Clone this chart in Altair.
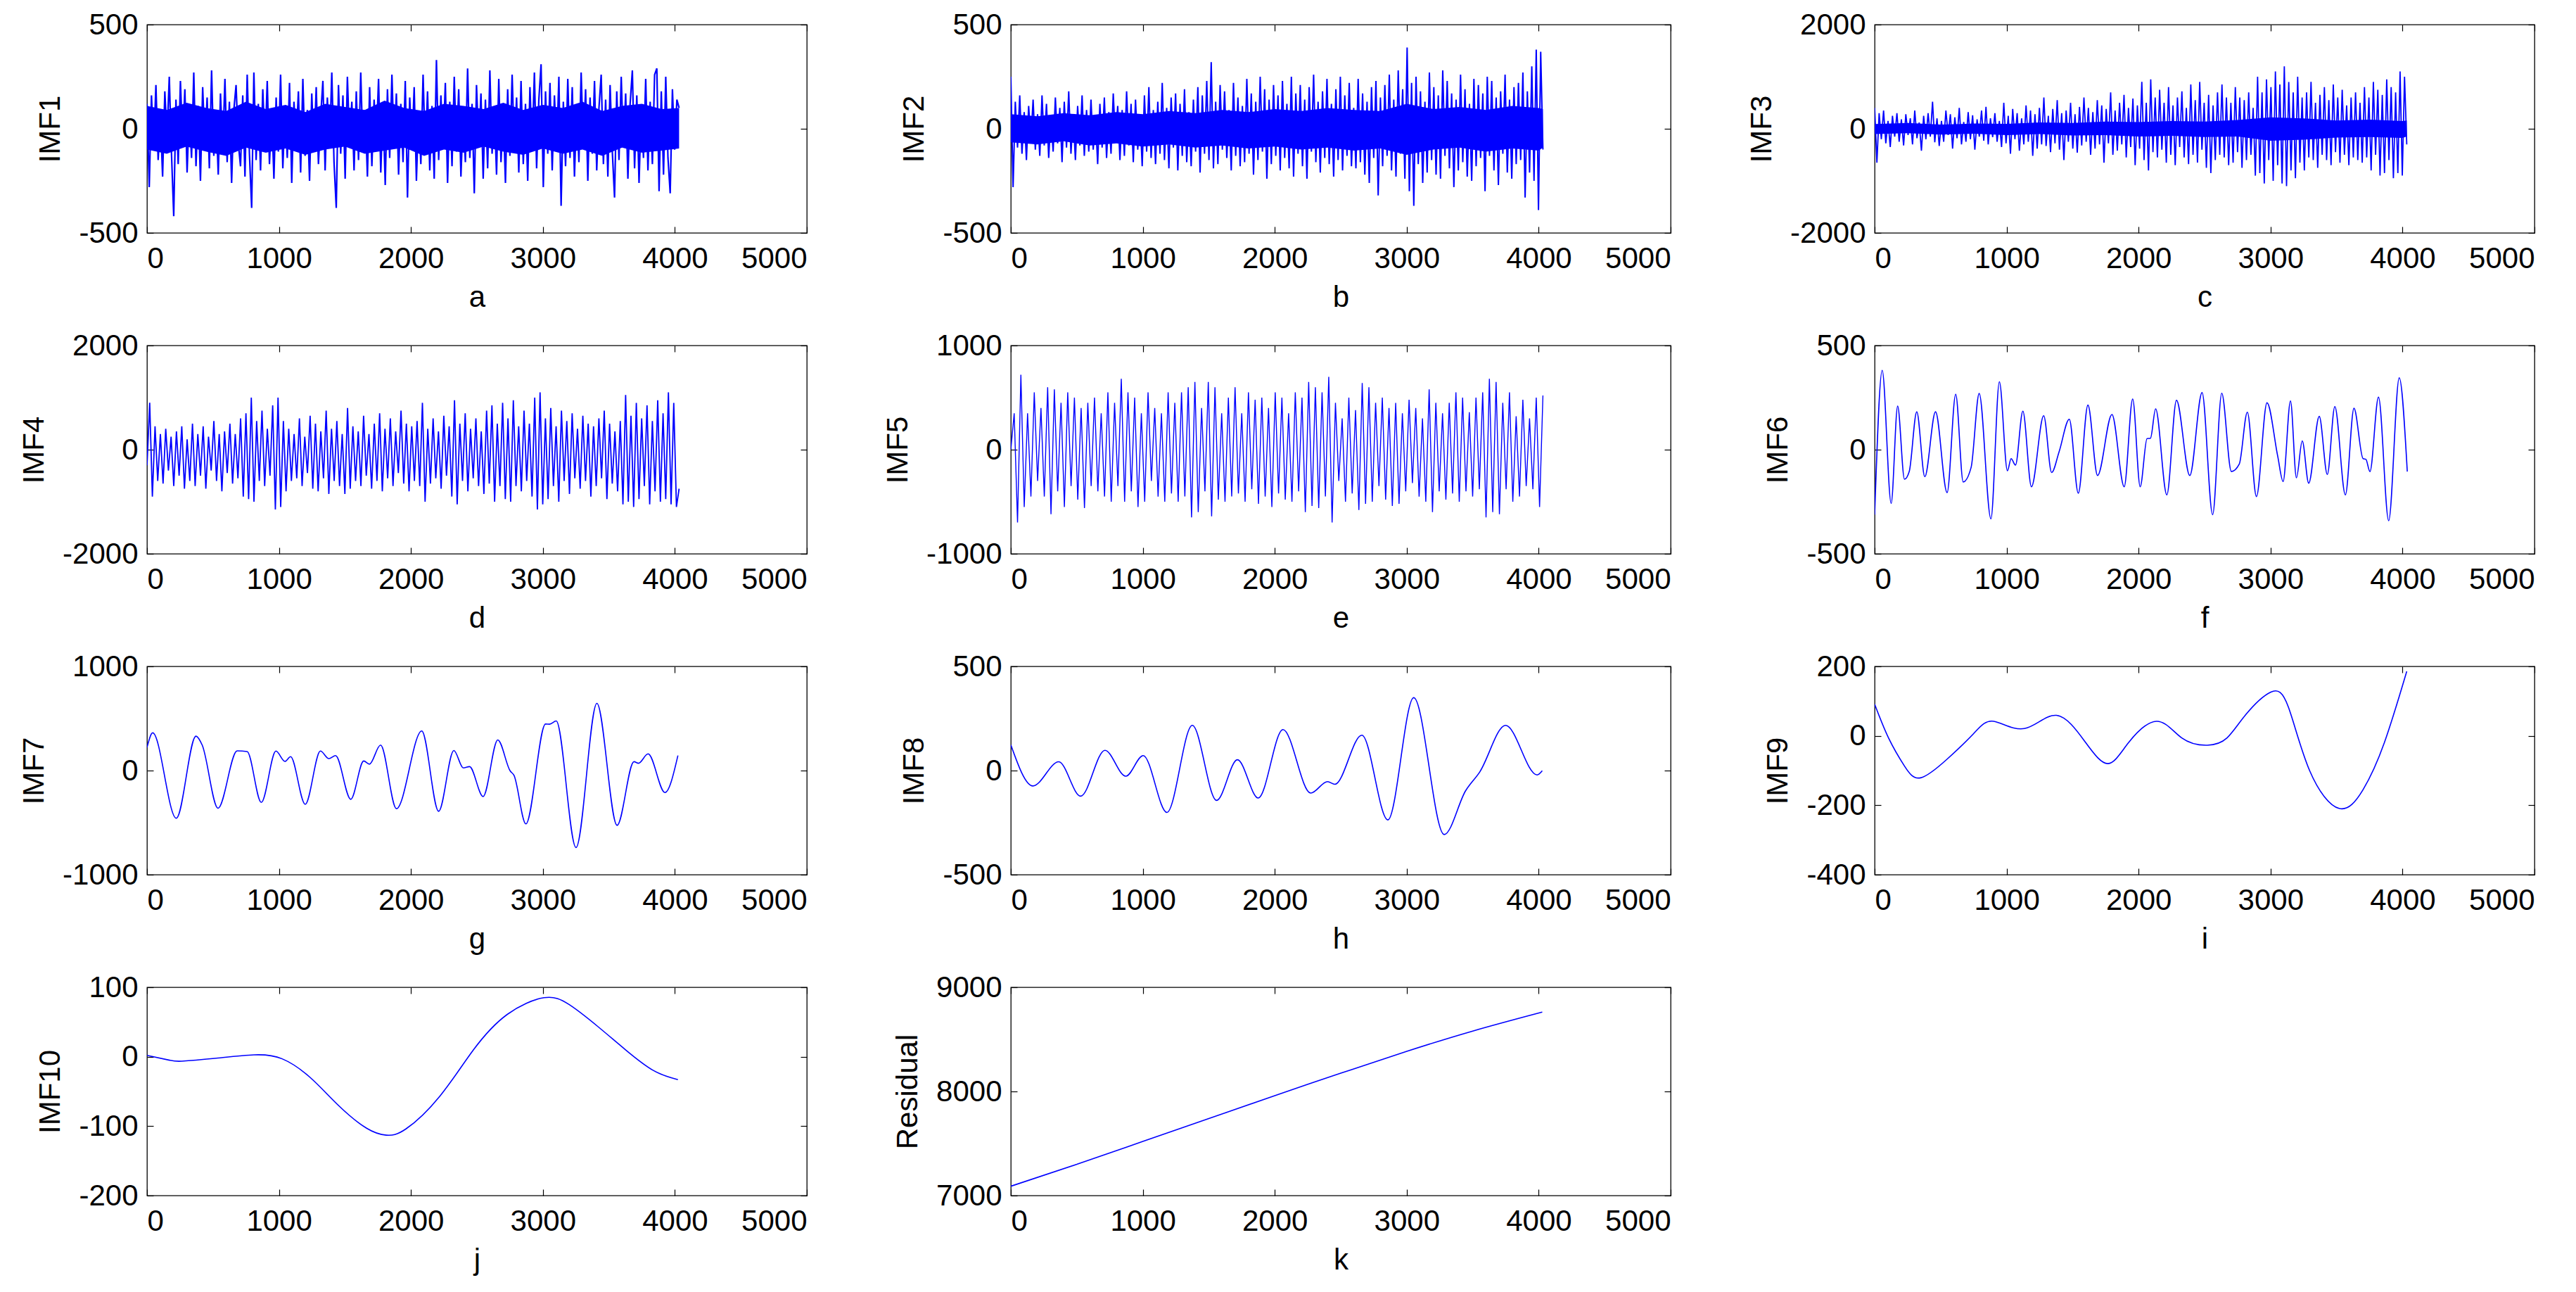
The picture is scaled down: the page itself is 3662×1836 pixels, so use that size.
import altair as alt
import pandas as pd

X_TICKS = [0, 1000, 2000, 3000, 4000, 5000]
LAST_SAMPLE = 4032

# ---- noisy components: successive extreme values ----
imf1 = [
    120, -280, 160, -90, 210, -150, 60, -230, 180, -40, 250, -120,
    -420, 140, -170, 230, -60, 190, -210, 90, -140, 270, -180, 110,
    -250, 200, -80, 150, -190, 280, -130, 70, -220, 170, -100, 240,
    -160, 130, -260, 90, 210, -70, -180, 160, -230, 260, -120, -380,
    270, -150, 120, -200, 190, -90, 230, -170, 80, -240, 150, -110,
    260, -190, 100, -140, 220, -260, 130, -60, 180, -210, 240, -130,
    90, -250, 170, -110, 200, -170, 60, 230, -200, 150, -90, 270,
    -160, -380, 210, -120, 160, -240, 250, -70, 130, -200, 180, -150,
    270, -110, 90, -230, 200, -180, 140, -60, 240, -210, 110, -270,
    190, -140, 260, -90, 170, -220, 120, -160, 230, -330, 150, -100,
    200, -250, 80, -170, 260, -120, 180, -200, 110, -240, 330, -150,
    160, -90, 220, -260, 130, -180, 250, -110, 190, -230, 70, -160,
    290, -140, 120, -310, 210, -80, 170, -240, 140, -190, 280, -120,
    100, -220, 240, -160, 80, -260, 190, -130, 260, -100, 150, -210,
    230, -170, 120, -250, 200, -90, 270, -190, 140, 310, -280, 180,
    -120, 220, -200, 160, -100, 250, -370, 130, -180, 240, -140, 200,
    -230, 110, -160, 270, -90, 190, -250, 150, -120, 230, -200, 100,
    260, -170, 140, -230, 210, -110, -330, 180, -150, 250, -90, 170,
    -240, 120, 280, -190, 160, -260, 90, -140, 240, -200, 130, -170,
    260, 290, -300, 180, -220, 250, -140, -310, 190, -100, 140, 100,
]

imf2 = [
    250, -280, 130, -90, 160, -120, 80, -150, 110, -60, 140, -100,
    70, -130, 160, -80, 120, -140, 60, -110, 150, -70, 100, -160,
    130, -90, 180, -120, 70, -150, 110, -80, 160, -130, 90, -110,
    140, -100, 60, -170, 120, -90, 150, -140, 80, -120, 170, -60,
    110, -150, 90, -130, 180, -80, 120, -160, 140, -100, 70, -180,
    160, -110, 200, -140, 90, -170, 130, -120, 220, -150, 100, -190,
    150, -90, 170, -200, 120, -130, 190, -160, 80, -180, 140, -110,
    200, -210, 160, -120, 230, -150, 320, -190, 130, -170, 210, -100,
    180, -140, 90, -200, 220, -130, 150, -180, 110, -160, 240, -120,
    170, -220, 130, -150, 250, -110, 190, -240, 140, -170, 210, -130,
    160, -200, 230, -140, 120, -190, 250, -230, 170, -120, 210, -180,
    140, -240, 200, -110, 260, -160, 130, -210, 180, -140, 240, -170,
    120, -230, 190, -150, 250, -200, 160, -130, 220, -180, 100, -190,
    240, -160, 170, -220, 130, -260, 200, -140, 230, -320, 150, -180,
    210, -130, 260, -200, 140, -230, 280, -120, 190, -240, 390, -300,
    220, -370, 250, -170, 180, -260, 130, -210, 270, -150, 200, -220,
    160, -240, 280, -130, 230, -190, 170, -280, 140, -200, 260, -160,
    190, -230, 120, -250, 240, -180, 210, -140, 170, -300, 250, -130,
    230, -200, 150, -270, 180, -120, 260, -210, 140, -240, 200, -170,
    220, -150, 270, -330, 180, -210, 300, -250, 380, -390, 370, -100,
]

imf3 = [
    400, -650, 300, -200, 350, -280, 150, -350, 250, -150, 300, -250,
    180, -320, 280, -120, 200, -300, 350, -180, 120, -420, 250, -200,
    300, -150, 520, -260, 200, -330, 150, -250, 350, -120, 280, -380,
    220, -180, 400, -300, 130, -250, 320, -200, 260, -400, 180, -150,
    350, -230, 420, -300, 200, -160, 300, -250, 150, -350, 500, -280,
    250, -480, 380, -200, 300, -420, 200, -300, 450, -250, 350, -520,
    280, -380, 400, -300, 600, -330, 250, -450, 380, -280, 550, -400,
    300, -600, 350, -250, 500, -380, 280, -460, 420, -320, 600, -250,
    400, -500, 320, -380, 550, -300, 450, -650, 380, -280, 700, -500,
    350, -420, 500, -300, 650, -550, 400, -350, 580, -700, 450, -380,
    900, -600, 500, -800, 950, -450, 600, -550, 750, -400, 500, -650,
    800, -500, 450, -700, 600, -350, 720, -550, 400, -680, 850, -500,
    550, -650, 900, -400, 500, -750, 650, -850, 450, -600, 700, -500,
    850, -550, 600, -700, 500, -650, 800, -450, 600, -750, 550, -600,
    700, -500, 400, -900, 1000, -850, 700, -1050, 950, -600, 800, -1000,
    1100, -700, 850, -1050, 1200, -1100, 900, -800, 700, -950, 1000, -650,
    600, -800, 700, -550, 900, -600, 500, -750, 650, -500, 800, -600,
    550, -700, 850, -450, 600, -650, 750, -500, 450, -700, 600, -550,
    700, -600, 500, -650, 800, -550, 600, -800, 900, -500, 750, -900,
    650, -850, 950, -600, 800, -950, 700, -850, 1100, -900, 1000, -300,
]

# solid core of the dense traces (upper / lower edge of the filled band)
imf1_core_x = [0, 150, 300, 450, 600, 750, 900, 1050, 1200, 1350, 1500, 1650, 1800, 1950,
               2100, 2250, 2400, 2550, 2700, 2850, 3000, 3150, 3300, 3450, 3600, 3750, 3900, 4032]
imf1_core_hi = [110, 90, 125, 100, 85, 130, 95, 115, 80, 120, 105, 90, 135, 100,
                85, 120, 110, 95, 125, 90, 115, 100, 130, 85, 110, 120, 95, 100]
imf1_core_lo = [-100, -120, -85, -110, -130, -90, -115, -95, -125, -100, -85, -120, -105, -90,
                -130, -100, -115, -85, -110, -125, -95, -120, -100, -130, -90, -115, -105, -95]

imf2_core_x = [0, 200, 400, 600, 800, 1000, 1200, 1400, 1600, 1800, 2000, 2200, 2400,
               2600, 2800, 3000, 3200, 3400, 3600, 3800, 4000, 4032]
imf2_core_hi = [70, 60, 75, 65, 80, 70, 85, 75, 90, 80, 95, 85, 100,
                90, 85, 120, 95, 105, 90, 110, 100, 95]
imf2_core_lo = [-65, -75, -60, -80, -70, -85, -75, -90, -80, -95, -85, -100, -90,
                -105, -95, -125, -100, -90, -110, -95, -105, -90]

imf3_core_x = [0, 250, 500, 750, 1000, 1250, 1500, 1750, 2000, 2250, 2500, 2750, 3000,
               3250, 3500, 3750, 4000, 4032]
imf3_core_hi = [90, 110, 80, 100, 95, 120, 110, 140, 130, 150, 140, 170, 220,
                200, 160, 175, 150, 160]
imf3_core_lo = [-100, -85, -110, -95, -120, -100, -130, -120, -150, -135, -160, -150, -230,
                -210, -170, -160, -175, -150]

imf4 = [
    -300, 900, -900, 450, -600, 300, -650, 400, -400, 250,
    -700, 350, -500, 450, -750, 200, -600, 500, -700, 300,
    -500, 450, -750, 250, -400, 550, -600, 300, -800, 350,
    -450, 500, -650, 300, -550, 600, -900, 700, -950, 1000,
    -1000, 550, -600, 750, -700, 400, -500, 850, -1150, 1000,
    -1100, 550, -800, 400, -600, 300, -550, 600, -700, 250,
    -450, 650, -750, 500, -800, 350, -550, 750, -850, 400,
    -600, 550, -700, 300, -850, 800, -750, 450, -600, 350,
    -700, 650, -500, 300, -750, 500, -600, 700, -800, 400,
    -550, 600, -700, 350, -450, 750, -650, 500, -800, 450,
    -600, 550, -700, 900, -1000, 400, -650, 600, -550, 350,
    -750, 650, -500, 450, -900, 950, -1050, 500, -600, 700,
    -800, 400, -550, 600, -700, 350, -850, 750, -650, 850,
    -1000, 500, -700, 900, -950, 600, -1000, 950, -700, 450,
    -800, 750, -600, 500, -900, 1000, -1150, 1100, -1050, 600,
    -950, 800, -700, 450, -1000, 750, -600, 550, -850, 700,
    -550, 400, -750, 650, -600, 500, -900, 450, -700, 600,
    -550, 750, -950, 500, -650, 350, -800, 550, -1050, 1050,
    -1000, 650, -1100, 900, -950, 600, -700, 850, -1050, 550,
    -800, 950, -1000, 700, -950, 1100, -1050, 900, -1100, -750,
]

imf5 = [
    0, 350, -700, 720, -550, 350, -450, 550, -300, 400,
    -450, 600, -620, 580, -400, 450, -550, 550, -350, 500,
    -480, 400, -560, 450, -350, 500, -400, 350, -450, 550,
    -500, 450, -350, 680, -500, 550, -400, 500, -550, 350,
    -500, 550, -300, 400, -450, 350, -500, 550, -420, 450,
    -500, 550, -450, 600, -650, 650, -600, 400, -400, 650,
    -640, 600, -480, 350, -500, 500, -450, 600, -420, 350,
    -500, 550, -380, 480, -520, 500, -450, 400, -550, 550,
    -420, 500, -480, 350, -500, 550, -400, 500, -600, 650,
    -540, 600, -560, 550, -450, 700, -700, 450, -300, 300,
    -500, 500, -420, 380, -580, 640, -520, 600, -500, 450,
    -350, 500, -480, 400, -540, 450, -520, 350, -400, 480,
    -320, 400, -450, 300, -500, 580, -600, 450, -400, 350,
    -480, 450, -420, 550, -500, 500, -400, 360, -450, 500,
    -380, 550, -650, 680, -600, 650, -620, 450, -380, 550,
    -500, 320, -450, 480, -350, 300, -380, 500, -550, 520,
]

# ---- smooth components: (sample, value) read at extremes and bends ----
imf6_x = [0, 57, 125, 174, 226, 262, 319, 380, 461, 549, 614, 671, 731, 792, 881,
          945, 1006, 1034, 1067, 1123, 1188, 1281, 1341, 1398, 1475, 1543, 1616,
          1689, 1798, 1891, 1955, 2012, 2064, 2090, 2129, 2214, 2287, 2388, 2481,
          2561, 2630, 2703, 2763, 2824, 2893, 2973, 3054, 3095, 3151, 3196, 3240,
          3289, 3369, 3430, 3487, 3567, 3632, 3701, 3722, 3753, 3818, 3895, 3975, 4036]
imf6_y = [-312, 381, -258, 209, -142, -105, 182, -130, 182, -206, 266, -155, -85, 270, -332,
          326, -101, -43, -74, 185, -178, 163, -110, -9, 146, -209, 214,
          -124, 169, -178, 243, -178, 53, 55, 196, -217, 237, -124, 274,
          -312, 271, -105, -69, 180, -225, 225, -31, -153, 234, -135, 42,
          -161, 160, -119, 207, -217, 199, -43, -46, -105, 252, -341, 345, -105]

imf7_x = [0, 43, 222, 371, 418, 538, 683, 759, 866, 977, 1045, 1088, 1199, 1314, 1378,
          1429, 1544, 1642, 1685, 1770, 1890, 2082, 2210, 2325, 2397, 2444, 2547, 2658,
          2751, 2781, 2871, 3020, 3050, 3101, 3251, 3409, 3562, 3690, 3724, 3797, 3925, 4023]
imf7_y = [222, 362, -458, 330, 245, -362, 189, 182, -306, 187, 88, 133, -324, 187, 115,
          144, -276, 92, 61, 245, -366, 380, -391, 193, 25, 38, -249, 294,
          -2, -47, -512, 447, 445, 476, -739, 645, -526, 85, 70, 160, -211, 144]

imf8_x = [0, 167, 363, 529, 713, 871, 1003, 1183, 1375, 1559, 1717, 1875, 2062, 2272,
          2400, 2455, 2660, 2857, 3053, 3284, 3446, 3553, 3749, 3988, 4027]
imf8_y = [123, -74, 42, -123, 97, -27, 72, -201, 217, -143, 52, -132, 197, -108,
          -53, -66, 170, -237, 350, -307, -97, -7, 217, -21, -1]

imf9_x = [0, 105, 226, 347, 549, 751, 901, 1135, 1378, 1600, 1769, 1923, 2137, 2327,
          2521, 2670, 2812, 3002, 3135, 3297, 3519, 3701, 3862, 4032]
imf9_y = [91, -6, -87, -121, -67, 7, 42, 21, 59, -20, -80, -20, 42, -6,
          -27, -6, 61, 126, 83, -101, -209, -155, -20, 186]

imf10_x = [0, 171, 264, 512, 810, 1024, 1237, 1450, 1664, 1813, 1962, 2218, 2474,
           2730, 3008, 3200, 3413, 3626, 3839, 4023]
imf10_y = [2, -5, -6.4, -2.4, 2.7, -3, -30, -70, -103, -113, -104, -57, 10,
           61, 85, 75, 44, 10, -20, -33]

res_x = [0, 500, 1000, 1500, 2000, 2500, 3000, 3500, 4027]
res_y = [7090, 7300, 7520, 7740, 7960, 8175, 8385, 8580, 8762]


def sample_positions(values):
    n = len(values)
    return [i * LAST_SAMPLE / (n - 1) for i in range(n)]


# name, letter, x, y, y-domain, y-ticks, interpolation, stroke width, core band
PANELS = [
    ("IMF1", "a", sample_positions(imf1), imf1, [-500, 500], [-500, 0, 500], "linear", 2.2,
     (imf1_core_x, imf1_core_lo, imf1_core_hi)),
    ("IMF2", "b", sample_positions(imf2), imf2, [-500, 500], [-500, 0, 500], "linear", 2.0,
     (imf2_core_x, imf2_core_lo, imf2_core_hi)),
    ("IMF3", "c", sample_positions(imf3), imf3, [-2000, 2000], [-2000, 0, 2000], "linear", 1.8,
     (imf3_core_x, imf3_core_lo, imf3_core_hi)),
    ("IMF4", "d", sample_positions(imf4), imf4, [-2000, 2000], [-2000, 0, 2000], "linear", 1.8, None),
    ("IMF5", "e", sample_positions(imf5), imf5, [-1000, 1000], [-1000, 0, 1000], "linear", 1.4, None),
    ("IMF6", "f", imf6_x, imf6_y, [-500, 500], [-500, 0, 500], "monotone", 1.6, None),
    ("IMF7", "g", imf7_x, imf7_y, [-1000, 1000], [-1000, 0, 1000], "monotone", 1.6, None),
    ("IMF8", "h", imf8_x, imf8_y, [-500, 500], [-500, 0, 500], "monotone", 1.6, None),
    ("IMF9", "i", imf9_x, imf9_y, [-400, 200], [-400, -200, 0, 200], "natural", 1.6, None),
    ("IMF10", "j", imf10_x, imf10_y, [-200, 100], [-200, -100, 0, 100], "natural", 1.6, None),
    ("Residual", "k", res_x, res_y, [7000, 9000], [7000, 8000, 9000], "natural", 1.6, None),
]

W, H = 938, 296
TICK = 9
LBL = "'' + datum.value"
BLUE = "#0000FF"


def panel(name, letter, xs, ys, ydom, yticks, interp, sw, core):
    df = pd.DataFrame({"x": xs, "y": ys})
    xs_ = alt.Scale(domain=[0, 5000], nice=False, zero=False)
    ys_ = alt.Scale(domain=ydom, nice=False, zero=False)
    line = alt.Chart(df).mark_line(
        color=BLUE, strokeWidth=sw, interpolate=interp, clip=True, strokeJoin="bevel"
    ).encode(
        x=alt.X("x:Q", scale=xs_, axis=alt.Axis(
            orient="bottom", values=X_TICKS, title=letter, offset=-TICK, tickSize=TICK,
            labelPadding=16, titlePadding=14, labelExpr=LBL)),
        y=alt.Y("y:Q", scale=ys_, axis=alt.Axis(
            orient="left", values=yticks, title=name, offset=-TICK, tickSize=TICK,
            labelPadding=13, titlePadding=18, labelExpr=LBL)),
    )
    inner = line
    if core is not None:
        cx, clo, chi = core
        cdf = pd.DataFrame({"x": cx, "lo": clo, "hi": chi})
        band = alt.Chart(cdf).mark_area(color=BLUE, opacity=1, clip=True).encode(
            x=alt.X("x:Q", scale=xs_, title=letter),
            y=alt.Y("lo:Q", scale=ys_, title=name),
            y2="hi:Q",
        )
        inner = alt.layer(band, line)
    frame = alt.Chart(df).mark_line(opacity=0).encode(
        x=alt.X("x:Q", scale=xs_, axis=alt.Axis(
            orient="top", values=X_TICKS, labels=False, title="", offset=-TICK, tickSize=TICK)),
        y=alt.Y("y:Q", scale=ys_, axis=alt.Axis(
            orient="right", values=yticks, labels=False, title="", offset=-TICK, tickSize=TICK)),
    )
    return alt.layer(inner, frame).resolve_axis(x="independent", y="independent").properties(
        width=W, height=H)


charts = [panel(*p) for p in PANELS]

chart = alt.concat(
    *charts, columns=3, spacing={"row": 160, "column": 290}, bounds="flush"
).properties(
    padding={"left": 18, "top": 5, "right": 5, "bottom": 5}
).configure(
    background="white"
).configure_view(
    stroke="black", strokeWidth=1.3
).configure_axis(
    domain=False, grid=False,
    labelFont="Liberation Sans", labelFontSize=42, labelColor="black",
    titleFont="Liberation Sans", titleFontSize=42, titleFontWeight="normal", titleColor="black",
    tickColor="black", tickWidth=1.2,
)

chart.save("out.html", embed_options={"renderer": "svg", "actions": False})
